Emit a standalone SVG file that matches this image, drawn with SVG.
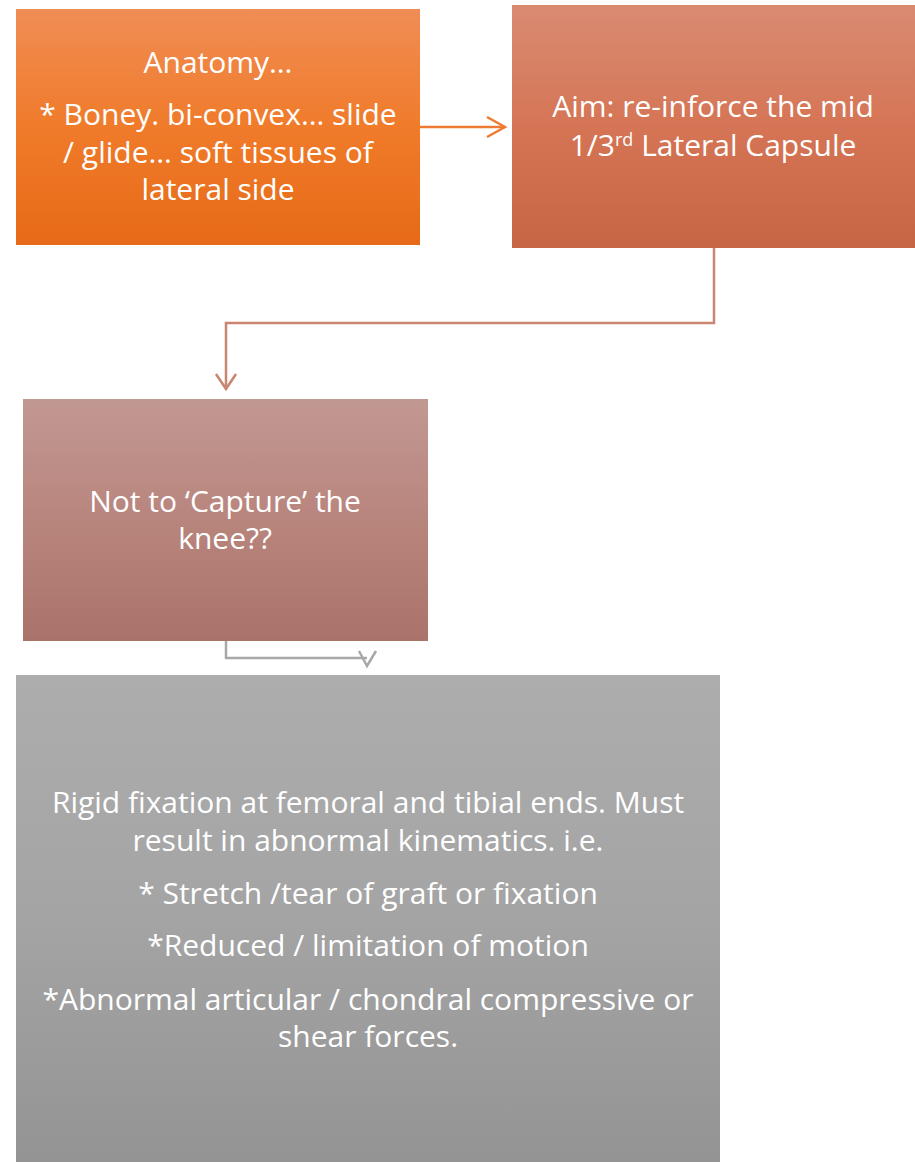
<svg xmlns="http://www.w3.org/2000/svg" width="915" height="1162" viewBox="0 0 915 1162">
<defs>
<linearGradient id="g1" x1="0" y1="0" x2="0" y2="1"><stop offset="0" stop-color="#F08D55"/><stop offset="0.5" stop-color="#F07B2A"/><stop offset="1" stop-color="#E66A17"/></linearGradient>
<linearGradient id="g2" x1="0" y1="0" x2="0" y2="1"><stop offset="0" stop-color="#D98B72"/><stop offset="0.5" stop-color="#D57555"/><stop offset="1" stop-color="#C66543"/></linearGradient>
<linearGradient id="g3" x1="0" y1="0" x2="0" y2="1"><stop offset="0" stop-color="#C29893"/><stop offset="0.5" stop-color="#B8857D"/><stop offset="1" stop-color="#AA736A"/></linearGradient>
<linearGradient id="g4" x1="0" y1="0" x2="0" y2="1"><stop offset="0" stop-color="#ADADAD"/><stop offset="0.5" stop-color="#A4A4A4"/><stop offset="1" stop-color="#949494"/></linearGradient>
</defs>
<style>
text{font-family:"Open Sans","Liberation Sans",sans-serif;font-size:30px;fill:#FFFFFF;text-anchor:middle}
.c{fill:none;stroke-width:2.5;stroke-linejoin:miter}
</style>
<g id="connectors">
<path class="c" stroke="#EE7B33" d="M420,127 H505"/>
<path class="c" stroke="#EE7B33" d="M487,117 L505,127 L487,137"/>
<path class="c" stroke="#C98572" d="M714,248 V323 H226 V389"/>
<path class="c" stroke="#C98572" d="M216,374 L226,389 L236,374"/>
<path class="c" stroke="#A8A8A8" d="M226,641 V658 H367"/>
<path class="c" stroke="#A8A8A8" d="M359,651 L367,666 L376,651"/>
</g>
<g id="node1">
<rect x="16" y="9" width="404" height="236" fill="url(#g1)"/>
<text x="218" y="73">Anatomy…</text>
<text x="218" y="125">* Boney. bi-convex… slide</text>
<text x="218" y="163">/ glide… soft tissues of</text>
<text x="218" y="200">lateral side</text>
</g>
<g id="node2">
<rect x="512" y="5" width="403" height="243" fill="url(#g2)"/>
<text x="713" y="117">Aim: re-inforce the mid</text>
<text x="713" y="156"><tspan>1/3</tspan><tspan font-size="18" dy="-10">rd</tspan><tspan dy="10"> Lateral Capsule</tspan></text>
</g>
<g id="node3">
<rect x="23" y="399" width="405" height="242" fill="url(#g3)"/>
<text x="225" y="512">Not to ‘Capture’ the</text>
<text x="225" y="549">knee??</text>
</g>
<g id="node4">
<rect x="16" y="675" width="704" height="487" fill="url(#g4)"/>
<text x="368" y="813">Rigid fixation at femoral and tibial ends. Must</text>
<text x="368" y="851">result in abnormal kinematics. i.e.</text>
<text x="368" y="904">* Stretch /tear of graft or fixation</text>
<text x="368" y="956">*Reduced / limitation of motion</text>
<text x="368" y="1010">*Abnormal articular / chondral compressive or</text>
<text x="368" y="1047">shear forces.</text>
</g>
</svg>
